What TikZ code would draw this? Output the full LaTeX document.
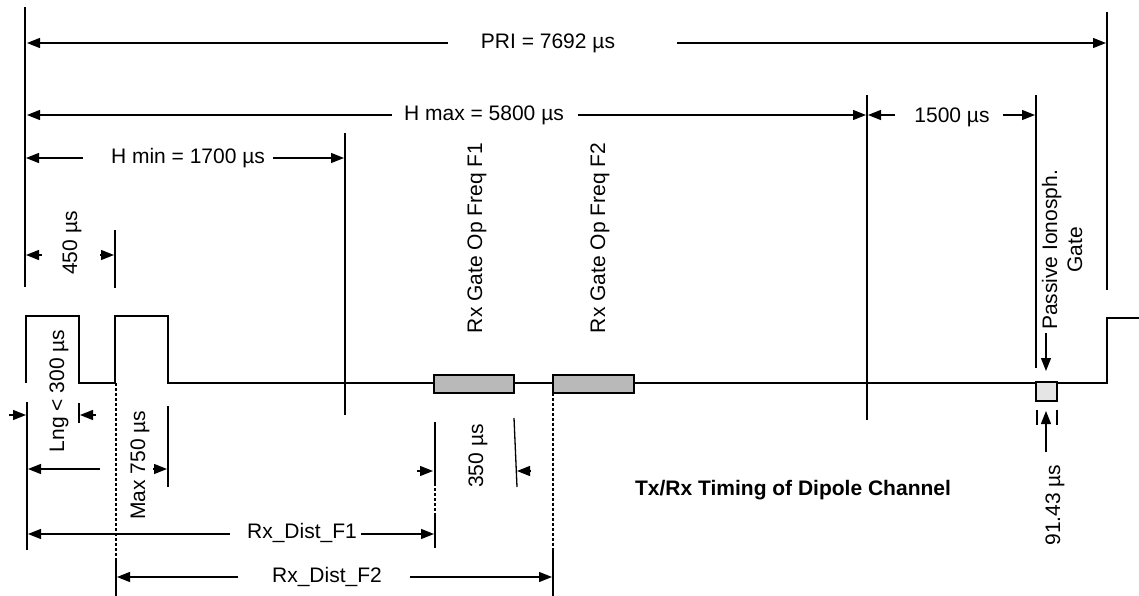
\documentclass[tikz,border=0pt]{standalone}
\usepackage{fontspec}
\setmainfont{Liberation Sans}
\usetikzlibrary{arrows.meta}
\begin{document}
\begin{tikzpicture}[x=1pt,y=-1pt,
  ln/.style={line width=1.3pt},
  arr/.style={ln,-{Triangle[length=13pt,width=10pt]}},
  dsh/.style={ln,dash pattern=on 3pt off 2pt},
  lbl/.style={font=\fontsize{21}{25}\selectfont,inner sep=0pt},
  vlbl/.style={lbl,rotate=90},
  gatebox/.style={ln,draw=black,fill=gray!55},
  pgate/.style={ln,draw=black,fill=gray!20}]
\useasboundingbox (0,0) rectangle (1139,596);
% reference verticals
\draw[ln] (25,7) -- (25,287);
\draw[ln] (27,402) -- (27,550);
\draw[ln] (1107,12) -- (1107,290);
\draw[ln] (867,95) -- (867,420);
\draw[ln] (1036,95) -- (1036,368);
\draw[ln] (345,133) -- (345,415);
\draw[ln] (115,230) -- (115,288);
\draw[ln] (168,406) -- (168,487);
\draw[ln] (79,403) -- (79,423);
% signal
\draw[ln] (26,383) -- (26,316) -- (79,316) -- (79,383) -- (115,383) -- (115,316)
  -- (168,316) -- (168,383) -- (1107,383) -- (1107,318) -- (1139,318);
\draw[gatebox] (434,375) rectangle (514,393);
\draw[gatebox] (553,375) rectangle (634,393);
\draw[pgate] (1036,382) rectangle (1057,401);
% PRI
\node[lbl] (pri) at (548,43) {PRI = 7692 µs};
\draw[arr] (448,43) -- (27,43);
\draw[arr] (677,43) -- (1106,43);
% H max
\node[lbl] (hmax) at (484,115) {H max = 5800 µs};
\draw[arr] (392,115) -- (27,115);
\draw[arr] (578,115) -- (866,115);
% 1500
\node[lbl] (t1500) at (952,117) {1500 µs};
\draw[arr] (895,115) -- (868,115);
\draw[arr] (1003,115) -- (1035,115);
% H min
\node[lbl] (hmin) at (188,158) {H min = 1700 µs};
\draw[arr] (83,158) -- (26,158);
\draw[arr] (273,158) -- (344,158);
% 450
\node[vlbl] (t450) at (72,243) {450 µs};
\draw[arr] (42,255) -- (26,255);
\draw[arr] (100,255) -- (114,255);
% Lng
\node[vlbl] (lng) at (59,391) {Lng < 300 µs};
\draw[arr] (9,415) -- (26,415);
\draw[arr] (96,415) -- (80,415);
% Max 750
\node[vlbl] (m750) at (140,465) {Max 750 µs};
\draw[arr] (100,469) -- (28,469);
\draw[arr] (153,469) -- (167,469);
% dashed from second pulse
\draw[dsh] (116,383) -- (116,560);
\draw[ln] (116,560) -- (116,596);
% Rx_Dist_F1
\node[lbl] (rx1) at (302,533) {Rx\_Dist\_F1};
\draw[arr] (230,534) -- (28,534);
\draw[arr] (361,534) -- (434,534);
\draw[ln] (435,422) -- (435,483);
\draw[dsh] (435,483) -- (435,513);
\draw[ln] (435,513) -- (435,548);
% Rx_Dist_F2
\node[lbl] (rx2) at (327,577) {Rx\_Dist\_F2};
\draw[arr] (238,577) -- (117,577);
\draw[arr] (410,577) -- (552,577);
\draw[dsh] (553,393) -- (553,548);
\draw[ln] (553,548) -- (553,596);
% 350
\node[vlbl] (t350) at (478,456) {350 µs};
\draw[arr] (417,471) -- (433,471);
\draw[arr] (530,471) -- (517,471);
\draw[ln] (514,418) -- (517,487);
% gate labels
\node[vlbl] (g1) at (477,238) {Rx Gate Op Freq F1};
\node[vlbl] (g2) at (600,238) {Rx Gate Op Freq F2};
% passive gate
\node[vlbl,align=center] (pg) at (1062,250) {Passive Ionosph.\\Gate};
\draw[arr] (1046,333) -- (1046,371);
\draw[arr] (1046,452) -- (1046,411);
\draw[ln] (1037,410) -- (1037,425);
\draw[ln] (1057,410) -- (1057,425);
\node[vlbl] (t91) at (1055,505) {91.43 µs};
% title
\node[lbl,font=\fontsize{21}{25}\selectfont\bfseries] (title) at (793,490) {Tx/Rx Timing of Dipole Channel};
\end{tikzpicture}
\end{document}
